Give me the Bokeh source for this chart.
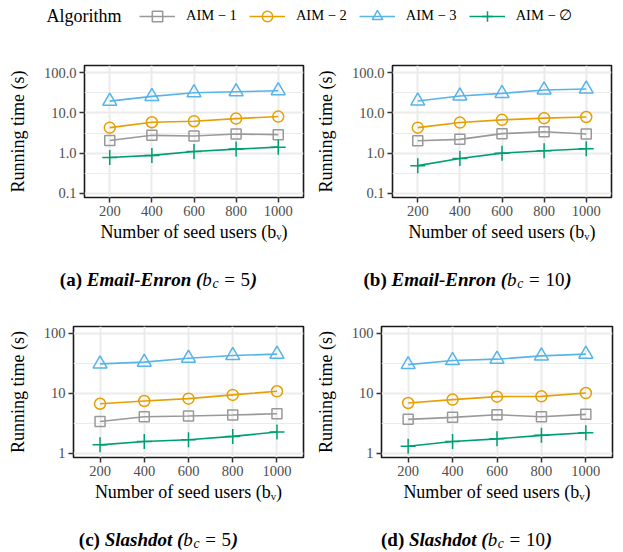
from bokeh.plotting import figure
from bokeh.layouts import column, row
from bokeh.models import Range1d, FixedTicker, NumeralTickFormatter, Legend, LegendItem, Label
from bokeh.core.properties import value
from bokeh.embed import file_html
from bokeh.resources import INLINE

# ---------------- data ----------------
seed_users = [200, 400, 600, 800, 1000]
algorithms = ["AIM \u2212 1", "AIM \u2212 2", "AIM \u2212 3", "AIM \u2212 \u2205"]
colors = ["#999999", "#E69F00", "#56B4E9", "#009E73"]
markers = ["square", "circle", "triangle", "cross"]

# (a) Email-Enron, b_c = 5
enron5_aim1 = [2.07, 2.77, 2.66, 2.98, 2.88]
enron5_aim2 = [4.3, 5.85, 6.2, 7.2, 8.1]
enron5_aim3 = [19.5, 25.7, 31.6, 33.5, 35.5]
enron5_aim0 = [0.78, 0.88, 1.1, 1.26, 1.41]
# (b) Email-Enron, b_c = 10
enron10_aim1 = [2.04, 2.2, 3.05, 3.4, 3.0]
enron10_aim2 = [4.3, 5.75, 6.7, 7.4, 7.9]
enron10_aim3 = [19.6, 26.3, 30.5, 37.0, 39.0]
enron10_aim0 = [0.49, 0.74, 1.0, 1.15, 1.29]
# (c) Slashdot, b_c = 5
slash5_aim1 = [3.4, 4.08, 4.19, 4.35, 4.58]
slash5_aim2 = [6.7, 7.45, 8.15, 9.4, 10.8]
slash5_aim3 = [30.8, 32.9, 38.3, 42.5, 44.7]
slash5_aim0 = [1.39, 1.58, 1.69, 1.92, 2.27]
# (d) Slashdot, b_c = 10
slash10_aim1 = [3.69, 3.98, 4.41, 4.08, 4.47]
slash10_aim2 = [6.9, 7.85, 8.8, 8.9, 10.1]
slash10_aim3 = [30.0, 35.0, 36.9, 41.9, 44.7]
slash10_aim0 = [1.32, 1.58, 1.75, 2.0, 2.21]

enron_ticks = [0.1, 1, 10, 100]
enron_minor = [0.316, 3.16, 31.6]
slash_ticks = [1, 10, 100]
slash_minor = [3.16, 31.6]

captions = [("a", "Email-Enron", "5"), ("b", "Email-Enron", "10"),
            ("c", "Slashdot", "5"), ("d", "Slashdot", "10")]

# ---------------- style ----------------
SERIF = "Liberation Serif"
marker_sizes = [10, 11, 14, 15]
GRID = "#EBEBEB"
DARK = "#333333"
W = 623


def panel(series, width, left, right, top, frame_h, bottom, yr, ticks, minor, fmt):
    p = figure(width=width, height=top + frame_h + bottom,
               x_range=Range1d(80, 1120), y_range=Range1d(*yr),
               y_axis_type="log", output_backend="svg", toolbar_location=None,
               min_border_left=left, min_border_right=right,
               min_border_top=top, min_border_bottom=bottom)
    p.background_fill_color = "white"
    p.outline_line_color = "#1a1a1a"
    p.outline_line_width = 1.6

    yt = FixedTicker(ticks=ticks, minor_ticks=minor)
    xt = FixedTicker(ticks=seed_users, minor_ticks=[])
    p.yaxis.ticker = yt
    p.ygrid.ticker = yt
    p.xaxis.ticker = xt
    p.xgrid.ticker = xt
    p.yaxis.formatter = NumeralTickFormatter(format=fmt)

    p.ygrid.grid_line_color = GRID
    p.ygrid.grid_line_width = 2
    p.ygrid.minor_grid_line_color = GRID
    p.ygrid.minor_grid_line_width = 1
    p.xgrid.grid_line_color = GRID
    p.xgrid.grid_line_width = 2

    for ax in (p.xaxis[0], p.yaxis[0]):
        ax.axis_line_color = None
        ax.major_tick_line_color = DARK
        ax.major_tick_line_width = 1.5
        ax.major_tick_out = 5
        ax.major_tick_in = 0
        ax.minor_tick_out = 0
        ax.minor_tick_in = 0
        ax.major_label_standoff = 3
        ax.major_label_text_font = SERIF
        ax.major_label_text_font_size = "14.5px"
        ax.major_label_text_color = "#4D4D4D"
        ax.axis_label_text_font = SERIF
        ax.axis_label_text_font_size = "18px"
        ax.axis_label_text_font_style = "normal"
        ax.axis_label_text_color = "black"
    p.xaxis.axis_label = "Number of seed users (b\u1d65)"
    p.xaxis.axis_label_standoff = 3
    p.yaxis.axis_label = "Running time (s)"
    p.yaxis.axis_label_standoff = 13

    for vals, c, m, s in zip(series, colors, markers, marker_sizes):
        p.line(seed_users, vals, line_color=c, line_width=1.6)
        p.scatter(seed_users, vals, marker=m, size=s, fill_color=None,
                  line_color=c, line_width=1.5)
    return p


pa = panel([enron5_aim1, enron5_aim2, enron5_aim3, enron5_aim0], 310, 84, 7, 20, 132, 58,
           (10 ** -1.1, 10 ** 2.175), enron_ticks, enron_minor, "0.0")
pb = panel([enron10_aim1, enron10_aim2, enron10_aim3, enron10_aim0], 313, 82, 12, 20, 132, 58,
           (10 ** -1.1, 10 ** 2.175), enron_ticks, enron_minor, "0.0")
pc = panel([slash5_aim1, slash5_aim2, slash5_aim3, slash5_aim0], 310, 73, 7, 26, 131, 55,
           (10 ** -0.067, 10 ** 2.11), slash_ticks, slash_minor, "0")
pd = panel([slash10_aim1, slash10_aim2, slash10_aim3, slash10_aim0], 313, 71, 11, 26, 131, 55,
           (10 ** -0.067, 10 ** 2.11), slash_ticks, slash_minor, "0")


def blank(h):
    f = figure(width=W, height=h, x_range=Range1d(0, W), y_range=Range1d(0, h),
               output_backend="svg", toolbar_location=None, min_border=0,
               x_axis_location=None, y_axis_location=None)
    f.grid.visible = False
    f.outline_line_color = None
    return f


# ---------------- legend ----------------
leg = blank(45)
items = []
for name, c, m, s in zip(algorithms, colors, markers, marker_sizes):
    # proxy renderers kept outside the visible range; only their legend keys are shown
    lr = leg.line(x=[-50, -40], y=[-50, -50], line_color=c, line_width=1.6)
    sr = leg.scatter(x=[-45], y=[-50], marker=m, size=s, fill_color=None, line_color=c, line_width=1.5)
    items.append(LegendItem(label=name, renderers=[lr, sr]))
legend = Legend(items=items, orientation="horizontal", location=(139, 16.5),
                padding=0, margin=0, spacing=12, label_standoff=11,
                glyph_width=36, glyph_height=26, label_height=26,
                border_line_color=None, background_fill_alpha=0,
                label_text_font=SERIF, label_text_font_size="14.5px",
                label_text_color="black")
leg.add_layout(legend)
leg.add_layout(Label(x=46, y=29.5, x_units="screen", y_units="screen", text="Algorithm",
                     text_font=SERIF, text_font_size="18px", text_baseline="middle",
                     text_color="black"))

# ---------------- captions ----------------
REG = {' ': 250, '(': 333, ')': 333, '=': 564, '0': 500, '1': 500, '5': 500}
BOLD = {' ': 250, '(': 333, ')': 333, 'a': 500, 'b': 556, 'c': 444, 'd': 556}
BI = {'E': 667, 'm': 778, 'a': 500, 'i': 278, 'l': 278, '-': 333, 'n': 556, 'r': 389,
      'o': 500, 'S': 556, 's': 389, 'h': 556, 'd': 500, 't': 278, ' ': 250, '(': 333, ')': 333}
IT = {'b': 500, 'c': 444}


def tw(s, tab, size):
    return sum(tab[ch] for ch in s) / 1000.0 * size


def caption(f, cx, base, lab, name, val):
    F = 19.0
    pieces = [("(" + lab + ")", "bold", F, 0, BOLD, 0.25 * F),
              (name, "bold italic", F, 0, BI, 0.25 * F),
              ("(", "bold italic", F, 0, BI, 0.0),
              ("b", "italic", F, 0, IT, 0.03 * F),
              ("c", "italic", 0.72 * F, -0.22 * F, IT, 0.3 * F),
              ("=", "normal", F, 0, REG, 0.3 * F),
              (val, "normal", F, 0, REG, 0.04 * F),
              (")", "bold italic", F, 0, BI, 0.0)]
    total = sum(tw(t, tab, s) + g for t, st, s, dy, tab, g in pieces) - pieces[-1][5]
    x = cx - total / 2
    for t, st, s, dy, tab, g in pieces:
        f.text(x=[x], y=[base + dy], text=[t], text_font=value(SERIF),
               text_font_size=f"{s:.1f}px", text_font_style=st,
               text_baseline="alphabetic", text_align="left", text_color="black")
        x += tw(t, tab, s) + g


cap1 = blank(45)
caption(cap1, 158, 21, *captions[0])
caption(cap1, 467, 21, *captions[1])
cap2 = blank(40)
caption(cap2, 158, 13, *captions[2])
caption(cap2, 466, 13, *captions[3])

layout = column(leg, row(pa, pb), cap1, row(pc, pd), cap2)
open("out.html", "w").write(file_html(layout, INLINE))
